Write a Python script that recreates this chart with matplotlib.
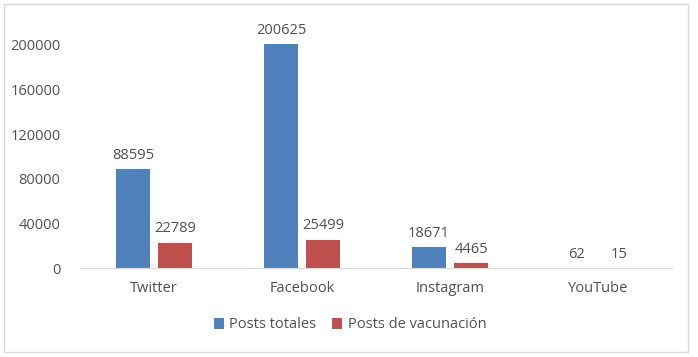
import matplotlib.pyplot as plt
import numpy as np
from matplotlib.patches import Rectangle

plt.rcParams['font.family'] = ['Open Sans', 'DejaVu Sans']

platforms = ['Twitter', 'Facebook', 'Instagram', 'YouTube']
posts_totales = [88595, 200625, 18671, 62]
posts_vacunacion = [22789, 25499, 4465, 15]
yticks = [0, 40000, 80000, 120000, 160000, 200000]

blue = '#4F81BD'
red = '#C0504D'
txt = '#505050'

fig = plt.figure(figsize=(6.98, 3.57), dpi=100)
fig.patches.append(Rectangle((0.006, 0.014), 0.98, 0.975, transform=fig.transFigure,
                             fill=False, edgecolor='#D9D9D9', linewidth=1))
ax = fig.add_axes([80 / 698, 1 - 268 / 357, 592 / 698, 232 / 357])

x = np.arange(len(platforms))
w = 0.225
off = 0.142
b1 = ax.bar(x - off, posts_totales, w, color=blue, label='Posts totales')
b2 = ax.bar(x + off, posts_vacunacion, w, color=red, label='Posts de vacunación')

for bars, vals in ((b1, posts_totales), (b2, posts_vacunacion)):
    for r, v in zip(bars, vals):
        ax.text(r.get_x() + r.get_width() / 2, v + 5500, str(v), ha='center', va='bottom',
                fontsize=10.5, color=txt)

ax.set_xlim(-0.5, 3.5)
ax.set_ylim(0, 208000)
ax.set_yticks(yticks)
ax.set_yticklabels([str(t) for t in yticks], fontsize=10.5, color=txt)
ax.set_xticks(x)
ax.set_xticklabels(platforms, fontsize=10.5, color=txt)
ax.tick_params(length=0)
ax.tick_params(axis='y', pad=14)
ax.tick_params(axis='x', pad=9)
for s in ['top', 'right', 'left']:
    ax.spines[s].set_visible(False)
ax.spines['bottom'].set_color('#D9D9D9')

fig.legend(loc='center', bbox_to_anchor=(350 / 698, 1 - 325 / 357), ncol=2, frameon=False,
           fontsize=10.5, handlelength=0.7, handleheight=0.7, handletextpad=0.35,
           columnspacing=1.1, labelcolor=txt)

fig.savefig('out.png', dpi=100)
